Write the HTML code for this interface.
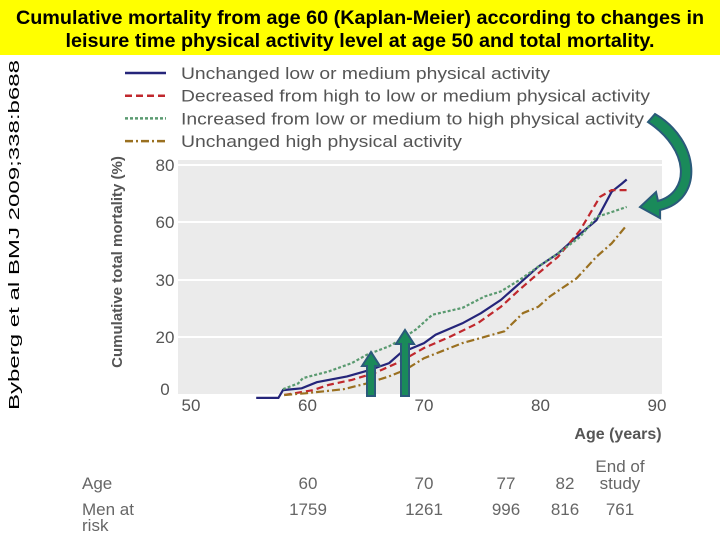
<!DOCTYPE html>
<html><head><meta charset="utf-8"><style>
body{margin:0;width:720px;height:540px;overflow:hidden;background:#fff;font-family:"Liberation Sans",sans-serif}
</style></head><body>
<svg width="720" height="540" xmlns="http://www.w3.org/2000/svg">
<rect x="0" y="0" width="720" height="55" fill="#ffff00"/>
<text x="360" y="24" text-anchor="middle" font-size="19.8" font-weight="bold" fill="#000">Cumulative mortality from age 60 (Kaplan-Meier) according to changes in</text>
<text x="360" y="47" text-anchor="middle" font-size="19.8" font-weight="bold" fill="#000">leisure time physical activity level at age 50 and total mortality.</text>
<text transform="translate(19,235) rotate(-90)" text-anchor="middle" font-size="15" textLength="350" lengthAdjust="spacingAndGlyphs" fill="#000">Byberg et al  BMJ 2009;338:b688</text>
<g id="legend"></g>
<rect x="178" y="160" width="484" height="236" fill="#ebebeb"/>
<g id="grid"></g><g id="series"></g>
<text transform="translate(122,262) rotate(-90)" text-anchor="middle" font-size="15" font-weight="bold" fill="#555">Cumulative total mortality (%)</text>
<text x="618" y="439" text-anchor="middle" font-size="16" font-weight="bold" fill="#555">Age (years)</text>
<g font-size="17" fill="#666">
<text x="82" y="489">Age</text>
<text x="82" y="515">Men at</text>
<text x="82" y="531">risk</text>
<text x="620" y="472" text-anchor="middle">End of</text>
<text x="620" y="489" text-anchor="middle">study</text>
<text x="308" y="489" text-anchor="middle">60</text><text x="424" y="489" text-anchor="middle">70</text>
<text x="506" y="489" text-anchor="middle">77</text><text x="565" y="489" text-anchor="middle">82</text>
<text x="308" y="515" text-anchor="middle">1759</text><text x="424" y="515" text-anchor="middle">1261</text>
<text x="506" y="515" text-anchor="middle">996</text><text x="565" y="515" text-anchor="middle">816</text>
<text x="620" y="515" text-anchor="middle">761</text>
</g>
<g><polygon points="367,396 367,366 362,366 371,352 380,366 375,366 375,396" fill="#1a8a5a" stroke="#2a5a7a" stroke-width="2"/></g>
<g><polygon points="401,396 401,344 396,344 405,330 414,344 409,344 409,396" fill="#1a8a5a" stroke="#2a5a7a" stroke-width="2"/></g>
<path d="M655,114 C700,140 705,200 660,210 L660,218 L640,207 L656,192 L658,201 C690,192 690,150 648,122 Z" fill="#1a8a5a" stroke="#2a5a7a" stroke-width="2"/>
</svg>
<script>
const yTicks=[0,20,30,60,80];
const yTickPx=[395,337,280,222,165];
const xTicks=[50,60,70,80,90];
const ages1=[55.6,57.5,57.9,59.5,60.8,63.4,65.4,67,68,70,71,73.3,74.9,76.6,78.2,79.8,81.5,83.1,84.8,86.1,87,87.4];
const vals1=[-1,-1,1.7,2.3,4.4,6.4,8.7,11,14.5,17.9,20.4,22.4,24.2,26.5,29.4,36.9,43.7,52.3,60.6,70.6,73.5,74.9];
const ages2=[58,60.5,61.8,63.8,65.7,68,70,72.3,74.6,76.6,78.2,79.8,81.5,83.4,85.1,86.1,87.4];
const vals2=[0,1.7,3.5,5.2,7.5,11.6,16.2,20.1,22.4,25.3,28.3,33.4,42,55.7,68.8,71.2,71.2];
const ages3=[57.9,59.2,59.6,61.8,63.8,65.1,67,68,69.3,70.7,73.3,75.2,76.6,78.2,79.8,81.5,83.4,84.8,85.7,87.4];
const vals3=[2,4,5.8,8.1,11,13.9,16.8,19.1,21.3,23.9,25.1,27.1,28,30,36.9,43.7,52.3,61.8,62.9,65.3];
const ages4=[58,59.8,63.1,65.1,67,68.4,70,73.3,74.9,76.9,78.5,79.8,80.8,83.1,84.8,86.1,87.4];
const vals4=[0,0.6,2,4,6.4,8.7,12.7,17.9,19.7,21,24.2,25.3,27.1,30.9,42,48.9,58.3];
const NS='http://www.w3.org/2000/svg';
function xs(a){return 191+(a-50)*11.65;}
function ys(v){if(v<=0)return yTickPx[0]-v*2.9;for(let i=1;i<yTicks.length;i++){if(v<=yTicks[i]||i===yTicks.length-1){const t=(v-yTicks[i-1])/(yTicks[i]-yTicks[i-1]);return yTickPx[i-1]+t*(yTickPx[i]-yTickPx[i-1]);}}}
function mk(tag,attrs,parent){const e=document.createElementNS(NS,tag);for(const k in attrs)e.setAttribute(k,attrs[k]);parent.appendChild(e);return e;}
const grid=document.getElementById('grid');
yTicks.forEach(v=>{
 const l=mk('line',{x1:178,x2:662,y1:ys(v),y2:ys(v),stroke:'#fff','stroke-width':2},grid);
 
 
 const t=mk('text',{x:165,y:ys(v)+(v===0?0:6),'text-anchor':'middle','font-size':17,fill:'#555'},grid);
 t.textContent=v;
 
 
});
xTicks.forEach(a=>{
 const t=mk('text',{x:xs(a),y:411,'text-anchor':'middle','font-size':17,fill:'#555'},grid);
 t.textContent=a;
 
 
});
const series=[
 {a:ages1,v:vals1,c:'#25257a',d:'',n:'Unchanged low or medium physical activity',id:'series-unchanged-low'},
 {a:ages2,v:vals2,c:'#c0282d',d:'7,4',n:'Decreased from high to low or medium physical activity',id:'series-decreased'},
 {a:ages3,v:vals3,c:'#5a9a70',d:'3,2',n:'Increased from low or medium to high physical activity',id:'series-increased'},
 {a:ages4,v:vals4,c:'#9a7020',d:'8,3,2,3',n:'Unchanged high physical activity',id:'series-unchanged-high'}];
const sg=document.getElementById('series'),lg=document.getElementById('legend');
const legW=[369,469,463,281];
series.forEach((s,i)=>{
 let d='';s.a.forEach((a,j)=>{d+=(j?'L':'M')+xs(a).toFixed(1)+','+ys(s.v[j]).toFixed(1);});
 const p=mk('path',{d:d,fill:'none',stroke:s.c,'stroke-width':2.2,'stroke-dasharray':s.d},sg);
 
 
 const y=73+i*22.7;
 const ll=mk('line',{x1:125,x2:166,y1:y,y2:y,stroke:s.c,'stroke-width':2.5,'stroke-dasharray':s.d},lg);
 
 
 const lt=mk('text',{x:181,y:y+6,'font-size':17,fill:'#555',textLength:legW[i],lengthAdjust:'spacingAndGlyphs'},lg);
 lt.textContent=s.n;
 
 
});
</script>
</body></html>
